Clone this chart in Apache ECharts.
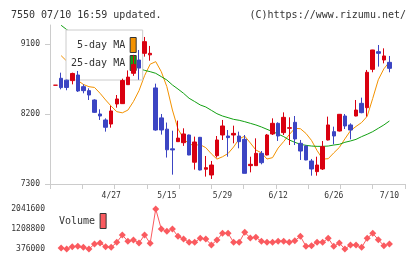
<!DOCTYPE html>
<html lang="ja">
<head>
<meta charset="UTF-8">
<title>7550</title>
<script src="https://cdn.jsdelivr.net/npm/echarts@6/dist/echarts.min.js"></script>
<style>
    html,body{margin:0;padding:0;background:#fff;}
    #main{width:420px;height:259px;}
</style>
</head>
<body>
<div id="main"></div>
<script>
// candle index 1..61, the lines start at index 2
var opens  = [8570,8659,8635,8629,8701,8551,8500,8380,8200,8123,8071,8329,8333,8577,8723,8894,8980,8960,8535,8150,
              8005,7752,7844,7831,7930,7580,7900,7490,7416,7664,7930,7917,7930,7917,7874,7536,7536,7694,7673,7943,
              8080,7960,8016,8093,7823,7788,7596,7459,7493,7866,7973,7981,8174,8059,8174,8337,8281,8774,9001,8894,8864];
var closes = [8570,8539,8541,8721,8496,8500,8444,8221,8174,8029,8239,8393,8630,8674,8835,8790,9130,8980,7994,7994,
              7740,7738,7890,7943,7673,7840,7480,7510,7544,7866,8046,7896,7951,7844,7437,7553,7694,7574,7930,8080,
              7917,8157,8024,7879,7724,7609,7493,7544,7780,8059,7917,8196,8046,7994,8251,8217,8736,9023,8980,8946,8787];
var lows   = [8570,8517,8505,8581,8483,8466,8380,8213,8123,7973,8024,8281,8329,8573,8690,8640,8937,8885,7985,7935,
              7640,7420,7840,7790,7670,7485,7475,7395,7365,7640,7866,7651,7823,7759,7437,7450,7536,7553,7668,7930,
              7853,7930,7801,7801,7609,7605,7407,7407,7480,7860,7810,7975,8007,7874,8170,8209,8166,8736,8809,8851,8736];
var highs  = [8570,8731,8641,8731,8753,8581,8530,8389,8260,8144,8303,8444,8654,8760,8960,9023,9190,9075,8590,8200,
              8090,7985,8115,8016,7935,7909,7905,7660,7596,7917,8123,7994,8050,7973,7930,7651,7887,7724,7943,8144,
              8093,8221,8157,8174,7866,7795,7622,7651,7853,8166,8037,8200,8200,8080,8380,8410,8766,9025,9087,9044,8946];

var ma5  = [8950,8880,8790,8630,8580,8551,8541,8466,8380,8300,8230,8215,8250,8360,8500,8693,8840,8873,8744,8551,
            8251,8007,7887,7810,7800,7805,7767,7688,7620,7650,7692,7776,7880,7915,7828,7737,7700,7621,7639,7762,
            7846,7935,8015,8011,7950,7860,7730,7620,7625,7700,7770,7880,7985,8040,8090,8170,8400,8640,8780,8870];
var ma25 = [9340,9285,9235,9190,9145,9100,9060,9020,8980,8945,8910,8875,8840,8810,8785,8761,8744,8723,8680,8637,
            8573,8521,8466,8402,8360,8316,8290,8247,8204,8174,8153,8131,8119,8101,8080,8059,8033,8003,7973,7943,
            7909,7866,7836,7810,7797,7788,7784,7784,7788,7801,7810,7836,7853,7874,7909,7939,7973,8016,8059,8110];
var volume = [418000,376000,473000,487000,445000,376000,584000,626000,473000,445000,654000,959000,695000,751000,626000,
              959000,612000,2041600,1209000,1112000,1209000,903000,792000,654000,654000,820000,792000,543000,751000,1028000,
              1028000,654000,654000,1070000,834000,862000,695000,654000,654000,695000,695000,654000,723000,903000,487000,
              515000,654000,654000,820000,487000,626000,376000,543000,543000,445000,820000,1028000,765000,515000,584000];

var tickIdx   = [11, 21, 31, 41, 51, 61];
var tickDates = ['4/27', '5/15', '5/29', '6/12', '6/26', '7/10'];
var priceTicks  = [7300, 8200, 9100];
var volumeTicks = [376000, 1208800, 2041600];

var mono = 'DejaVu Sans Mono';
var UP = '#d90010', DOWN = '#3c45c3';

var candles = opens.map(function (o, k) { return [k + 1, o, closes[k], lows[k], highs[k]]; });
function fromTwo(arr) { return arr.map(function (v, k) { return [k + 2, v]; }); }

var myChart = echarts.init(document.getElementById('main'));
var option = {
    animation: false,
    backgroundColor: '#fff',
    title: [
        {text: '7550 07/10 16:59 updated.', left: 6, top: 5,
         textStyle: {fontFamily: mono, fontSize: 10, fontWeight: 'normal', color: '#333'}},
        {text: '(C)https://www.rizumu.net/', right: 9, top: 5,
         textStyle: {fontFamily: mono, fontSize: 10, fontWeight: 'normal', color: '#333'}}
    ],
    legend: [
        {
            data: ['5-day MA', '25-day MA'],
            orient: 'vertical', align: 'right',
            left: 66, top: 30, padding: [7, 6, 9, 5], itemGap: 2,
            itemWidth: 6, itemHeight: 15, icon: 'rect',
            backgroundColor: '#fff', borderColor: '#ccc', borderWidth: 1,
            itemStyle: {borderColor: '#333', borderWidth: 1},
            textStyle: {fontFamily: mono, fontSize: 10, color: '#333'},
            selectedMode: false, z: 4
        },
        {
            data: ['Volume'],
            orient: 'vertical', align: 'right',
            left: 59, top: 213, padding: 0,
            itemWidth: 6, itemHeight: 15, icon: 'rect',
            itemStyle: {borderColor: '#333', borderWidth: 1},
            textStyle: {fontFamily: mono, fontSize: 10, color: '#333'},
            selectedMode: false
        }
    ],
    grid: [
        {left: 50, top: 25, width: 355, height: 159},
        {left: 50, top: 209, width: 355, height: 40}
    ],
    xAxis: [
        {
            type: 'value', gridIndex: 0, min: 0, max: 63.8, interval: 5.8,
            axisLine: {show: true, lineStyle: {color: '#ccc', width: 1}},
            axisTick: {show: true, length: 5, lineStyle: {color: '#ccc'}},
            axisLabel: {
                customValues: tickIdx,
                formatter: function (v) { return tickDates[tickIdx.indexOf(v)]; },
                fontFamily: mono, fontSize: 8, color: '#333', margin: 8
            },
            splitLine: {show: false}
        },
        {type: 'value', gridIndex: 1, min: 0, max: 63.8, show: false}
    ],
    yAxis: [
        {
            type: 'value', gridIndex: 0, min: 7300, max: 9344,
            axisLine: {show: true, lineStyle: {color: '#ccc', width: 1}},
            axisTick: {show: true, customValues: priceTicks, length: 5, lineStyle: {color: '#ccc'}},
            axisLabel: {
                customValues: priceTicks,
                formatter: function (v) { return String(v); },
                fontFamily: mono, fontSize: 8, color: '#333', margin: 10
            },
            splitLine: {show: false}
        },
        {
            type: 'value', gridIndex: 1, min: 376000, max: 2041600,
            axisLine: {show: false}, axisTick: {show: false},
            axisLabel: {
                customValues: volumeTicks,
                formatter: function (v) { return String(v); },
                fontFamily: mono, fontSize: 8, color: '#333', margin: 5
            },
            splitLine: {show: false}
        }
    ],
    series: [
        {
            name: 'price', type: 'candlestick', xAxisIndex: 0, yAxisIndex: 0,
            data: candles, barWidth: 4, z: 5,
            itemStyle: {color: UP, color0: DOWN, borderColor: UP, borderColor0: DOWN, borderWidth: 1}
        },
        {
            name: '5-day MA', type: 'line', xAxisIndex: 0, yAxisIndex: 0,
            data: fromTwo(ma5), showSymbol: false, z: 2,
            itemStyle: {color: '#f39200'}, lineStyle: {color: '#f39200', width: 1}
        },
        {
            name: '25-day MA', type: 'line', xAxisIndex: 0, yAxisIndex: 0,
            data: fromTwo(ma25), showSymbol: false, z: 2,
            itemStyle: {color: '#12a012'}, lineStyle: {color: '#12a012', width: 1}
        },
        {
            name: 'Volume', type: 'line', xAxisIndex: 1, yAxisIndex: 1,
            data: fromTwo(volume), symbol: 'diamond', symbolSize: 7,
            itemStyle: {color: '#fa5a5f'}, lineStyle: {color: '#fa5a5f', width: 1}
        }
    ]
};
myChart.setOption(option);
</script>
</body>
</html>
